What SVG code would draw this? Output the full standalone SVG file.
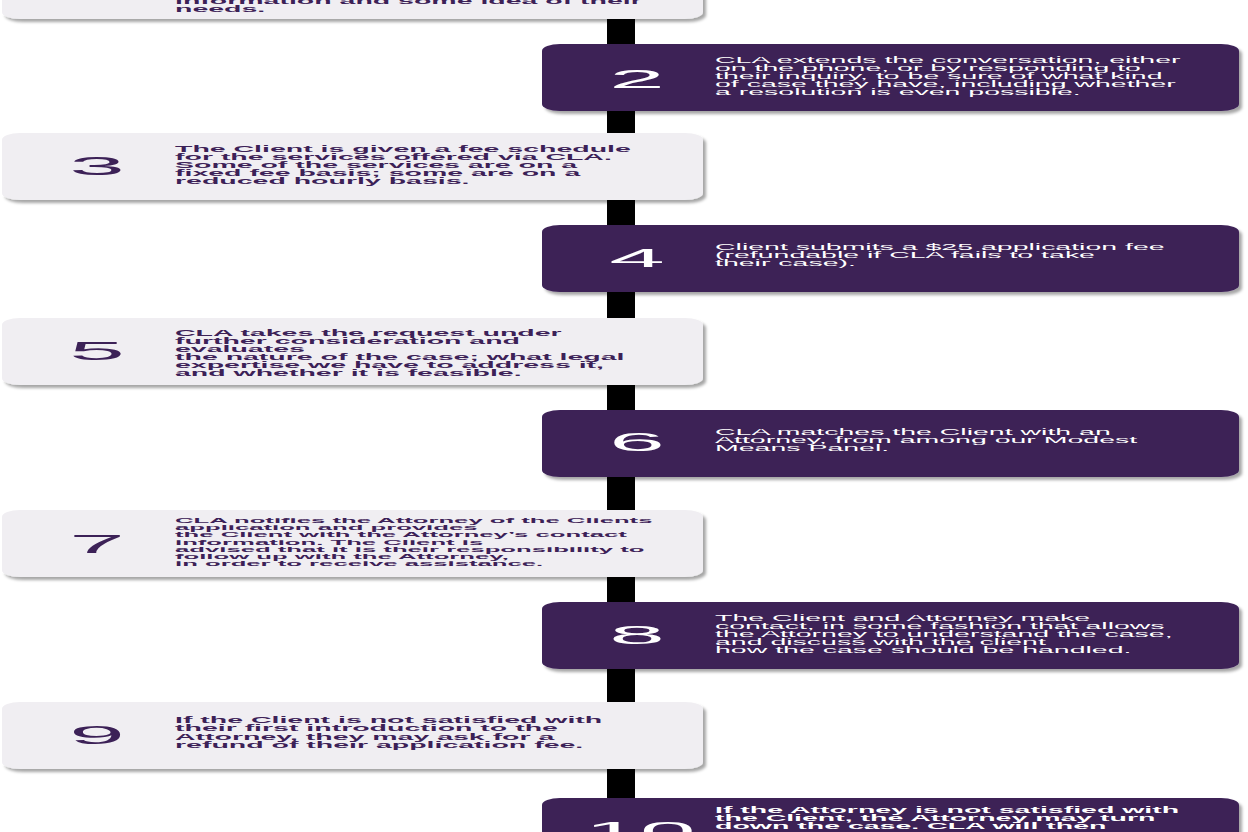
<svg xmlns="http://www.w3.org/2000/svg" width="1248" height="832" viewBox="0 0 1248 832">
<style>
.light{fill:#f0eef2;filter:url(#sh)}
.dark{fill:#3c2157;filter:url(#sh)}
.num{font-family:"Liberation Sans",Arial,sans-serif;font-size:100px;text-anchor:middle}
.ln{fill:#3c2157}
.dn{fill:#ffffff}
.lt{font-family:"Liberation Sans",Arial,sans-serif;font-size:28.5px;font-weight:bold;fill:#3c2157}
.dt{font-family:"Liberation Sans",Arial,sans-serif;font-size:28.5px;fill:#ffffff}
.db{font-weight:bold}
.sm{font-size:25.7px}
</style>
<defs>
<filter id="sh" x="-5%" y="-20%" width="110%" height="150%">
<feDropShadow dx="3" dy="3" stdDeviation="1.8" flood-color="#000" flood-opacity="0.35"/>
</filter>
</defs>
<rect width="1248" height="832" fill="#ffffff"/>
<g id="connectors">
<rect x="607" y="0" width="28" height="832" fill="#000000"/>
</g>
<g id="step-1">
<rect class="light" x="2" y="-48" width="701" height="67" rx="18" ry="7"/>
<text class="lt" transform="translate(175,4) scale(1,0.29)"><tspan x="0" y="0">information and some idea of their</tspan><tspan x="0" dy="27.6">needs.</tspan></text>
</g>
<g id="step-2">
<rect class="dark" x="542" y="44" width="697" height="67" rx="18" ry="7"/>
<text class="num dn" transform="translate(637,88) scale(1,0.25)">2</text>
<text class="dt" transform="translate(715,63) scale(1,0.29)"><tspan x="0" y="0">CLA extends the conversation, either</tspan><tspan x="0" dy="27.6">on the phone, or by responding to</tspan><tspan x="0" dy="27.6">their inquiry, to be sure of what kind</tspan><tspan x="0" dy="27.6">of case they have, including whether</tspan><tspan x="0" dy="27.6">a resolution is even possible.</tspan></text>
</g>
<g id="step-3">
<rect class="light" x="2" y="133" width="701" height="67" rx="18" ry="7"/>
<text class="num ln" transform="translate(97,175) scale(1,0.25)">3</text>
<text class="lt" transform="translate(175,152) scale(1,0.29)"><tspan x="0" y="0">The Client is given a fee schedule</tspan><tspan x="0" dy="27.6">for the services offered via CLA.</tspan><tspan x="0" dy="27.6">Some of the services are on a</tspan><tspan x="0" dy="27.6">fixed fee basis; some are on a</tspan><tspan x="0" dy="27.6">reduced hourly basis.</tspan></text>
</g>
<g id="step-4">
<rect class="dark" x="542" y="225" width="697" height="67" rx="18" ry="7"/>
<text class="num dn" transform="translate(637,267) scale(1,0.25)">4</text>
<text class="dt" transform="translate(715,250) scale(1,0.29)"><tspan x="0" y="0">Client submits a $25 application fee</tspan><tspan x="0" dy="27.6">(refundable if CLA fails to take</tspan><tspan x="0" dy="27.6">their case).</tspan></text>
</g>
<g id="step-5">
<rect class="light" x="2" y="318" width="701" height="67" rx="18" ry="7"/>
<text class="num ln" transform="translate(97,360) scale(1,0.25)">5</text>
<text class="lt" transform="translate(175,336) scale(1,0.29)"><tspan x="0" y="0">CLA takes the request under</tspan><tspan x="0" dy="27.6">further consideration and</tspan><tspan x="0" dy="27.6">evaluates</tspan><tspan x="0" dy="27.6">the nature of the case; what legal</tspan><tspan x="0" dy="27.6">expertise we have to address it,</tspan><tspan x="0" dy="27.6">and whether it is feasible.</tspan></text>
</g>
<g id="step-6">
<rect class="dark" x="542" y="410" width="697" height="67" rx="18" ry="7"/>
<text class="num dn" transform="translate(637,451) scale(1,0.25)">6</text>
<text class="dt" transform="translate(715,435) scale(1,0.29)"><tspan x="0" y="0">CLA matches the Client with an</tspan><tspan x="0" dy="27.6">Attorney, from among our Modest</tspan><tspan x="0" dy="27.6">Means Panel.</tspan></text>
</g>
<g id="step-7">
<rect class="light" x="2" y="510" width="701" height="67" rx="18" ry="7"/>
<text class="num ln" transform="translate(97,553) scale(1,0.25)">7</text>
<text class="lt sm" transform="translate(175,523) scale(1,0.29)"><tspan x="0" y="0">CLA notifies the Attorney of the Clients</tspan><tspan x="0" dy="24.8">application and provides</tspan><tspan x="0" dy="24.8">the Client with the Attorney’s contact</tspan><tspan x="0" dy="24.8">information. The Client is</tspan><tspan x="0" dy="24.8">advised that it is their responsibility to</tspan><tspan x="0" dy="24.8">follow up with the Attorney,</tspan><tspan x="0" dy="24.8">in order to receive assistance.</tspan></text>
</g>
<g id="step-8">
<rect class="dark" x="542" y="602" width="697" height="67" rx="18" ry="7"/>
<text class="num dn" transform="translate(637,644) scale(1,0.25)">8</text>
<text class="dt" transform="translate(715,621) scale(1,0.29)"><tspan x="0" y="0">The Client and Attorney make</tspan><tspan x="0" dy="27.6">contact, in some fashion that allows</tspan><tspan x="0" dy="27.6">the Attorney to understand the case,</tspan><tspan x="0" dy="27.6">and discuss with the client</tspan><tspan x="0" dy="27.6">how the case should be handled.</tspan></text>
</g>
<g id="step-9">
<rect class="light" x="2" y="702" width="701" height="67" rx="18" ry="7"/>
<text class="num ln" transform="translate(97,744) scale(1,0.25)">9</text>
<text class="lt" transform="translate(175,723) scale(1,0.29)"><tspan x="0" y="0">If the Client is not satisfied with</tspan><tspan x="0" dy="28.6">their first introduction to the</tspan><tspan x="0" dy="28.6">Attorney, they may ask for a</tspan><tspan x="0" dy="28.6">refund of their application fee.</tspan></text>
</g>
<g id="step-10">
<rect class="dark" x="542" y="798" width="697" height="67" rx="18" ry="7"/>
<text class="num dn" transform="translate(640,840) scale(1,0.25)">10</text>
<text class="dt db" transform="translate(715,813) scale(1,0.29)"><tspan x="0" y="0">If the Attorney is not satisfied with</tspan><tspan x="0" dy="27.6">the Client, the Attorney may turn</tspan><tspan x="0" dy="27.6">down the case. CLA will then</tspan></text>
</g>
</svg>
